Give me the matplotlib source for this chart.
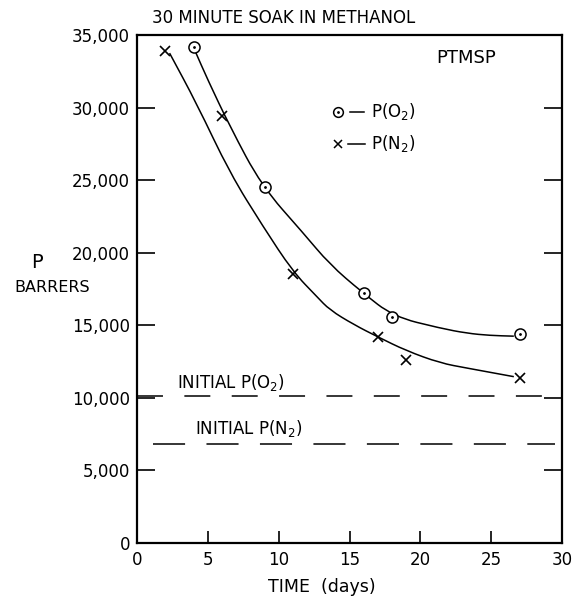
import matplotlib
matplotlib.use("Agg")
import matplotlib.pyplot as plt
from matplotlib.path import Path
from matplotlib.patches import PathPatch
from matplotlib.ticker import FuncFormatter

plt.rcParams['font.family'] = ['DejaVu Sans']
plt.rcParams['mathtext.default'] = 'regular'

# measured points
o2_days = [4, 9, 16, 18, 27]
o2_perm = [34200, 24500, 17250, 15600, 14400]
n2_days = [2, 6, 11, 17, 19, 27]
n2_perm = [33900, 29400, 18500, 14200, 12600, 11400]

# hand-drawn smooth curves (guide points)
o2_curve_x = [4.1, 5.0, 6.56, 8.8, 11.74, 13.6, 15.86, 18.1, 21.4, 23.3, 24.9, 26.6]
o2_curve_y = [33900, 31900, 28700, 24600, 21350, 19200, 17300, 15600, 14800, 14450, 14300, 14250]
n2_curve_x = [2.3, 4.2, 6.56, 8.9, 11.0, 12.7, 13.6, 15.3, 17.0, 19.0, 21.4, 23.3, 26.6]
n2_curve_y = [33750, 30300, 25480, 21800, 18700, 16970, 16060, 15050, 14200, 13250, 12400, 12050, 11460]

# initial values (dashed lines)
initial_o2 = 10100
initial_o2_span = [0.0, 28.8]
initial_n2 = 6800
initial_n2_span = [1.1, 29.5]

x_ticks = [0, 5, 10, 15, 20, 25, 30]
y_ticks = [0, 5000, 10000, 15000, 20000, 25000, 30000, 35000]


def smooth_path(xs, ys):
    pts = list(zip(xs, ys))
    verts = [pts[0]]
    codes = [Path.MOVETO]
    mid = lambda a, b: ((a[0] + b[0]) / 2, (a[1] + b[1]) / 2)
    verts.append(mid(pts[0], pts[1]))
    codes.append(Path.LINETO)
    for i in range(1, len(pts) - 1):
        verts += [pts[i], mid(pts[i], pts[i + 1])]
        codes += [Path.CURVE3, Path.CURVE3]
    verts.append(pts[-1])
    codes.append(Path.LINETO)
    return Path(verts, codes)


fig = plt.figure(figsize=(5.75, 5.97), dpi=100)
ax = fig.add_axes([137/575, 1-543/597, (562-137)/575, (543-35)/597])
ax.set_xlim(0, 30)
ax.set_ylim(0, 35000)

for cx, cy in [(o2_curve_x, o2_curve_y), (n2_curve_x, n2_curve_y)]:
    ax.add_patch(PathPatch(smooth_path(cx, cy), fill=False, edgecolor='black', lw=1.1))

ax.plot(o2_days, o2_perm, ls='none', marker='o', ms=8, mfc='white', mec='black', mew=1.1)
ax.plot(o2_days, o2_perm, ls='none', marker='.', ms=2, color='black')
ax.plot(n2_days, n2_perm, ls='none', marker='x', ms=7, mec='black', mew=1.2)

ax.plot(initial_o2_span, [initial_o2, initial_o2], color='black', lw=1.1,
        dashes=(17, 14))
ax.plot(initial_n2_span, [initial_n2, initial_n2], color='black', lw=1.1,
        dashes=(21, 14))

ax.text(2.8, initial_o2 + 250, 'INITIAL P(O$_2$)', fontsize=12, ha='left', va='bottom')
ax.text(4.1, initial_n2 + 350, 'INITIAL P(N$_2$)', fontsize=12, ha='left', va='bottom')

ax.text(23.2, 33400, 'PTMSP', fontsize=13, ha='center', va='center')

# legend drawn by hand
ax.plot([14.2], [29700], ls='none', marker='o', ms=7, mfc='white', mec='black', mew=1.1)
ax.plot([14.2], [29700], ls='none', marker='.', ms=2, color='black')
ax.plot([15.0, 16.0], [29700, 29700], color='black', lw=1.1)
ax.text(16.5, 29700, 'P(O$_2$)', fontsize=12, ha='left', va='center')
ax.plot([14.2], [27500], ls='none', marker='x', ms=6, mec='black', mew=1.1)
ax.plot([14.9, 16.1], [27500, 27500], color='black', lw=1.1)
ax.text(16.5, 27500, 'P(N$_2$)', fontsize=12, ha='left', va='center')

ax.set_xticks(x_ticks)
ax.set_yticks(y_ticks)
ax.yaxis.set_major_formatter(FuncFormatter(lambda v, p: f"{int(v):,}"))
ax.tick_params(axis='y', direction='in', length=13, width=1.2, right=True,
               labelsize=12, pad=5)
ax.tick_params(axis='x', direction='in', length=9, width=1.2,
               labelsize=12, pad=6)
for s in ax.spines.values():
    s.set_linewidth(1.6)

fig.text(284/575, 1-18/597, '30 MINUTE SOAK IN METHANOL', fontsize=12,
         ha='center', va='center')
fig.text(37/575, 1-263/597, 'P', fontsize=14, ha='center', va='center')
fig.text(52/575, 1-288/597, 'BARRERS', fontsize=11.5, ha='center', va='center')
fig.text(322/575, 1-587/597, 'TIME  (days)', fontsize=12.5, ha='center', va='center')

fig.savefig('out.png', dpi=100)
